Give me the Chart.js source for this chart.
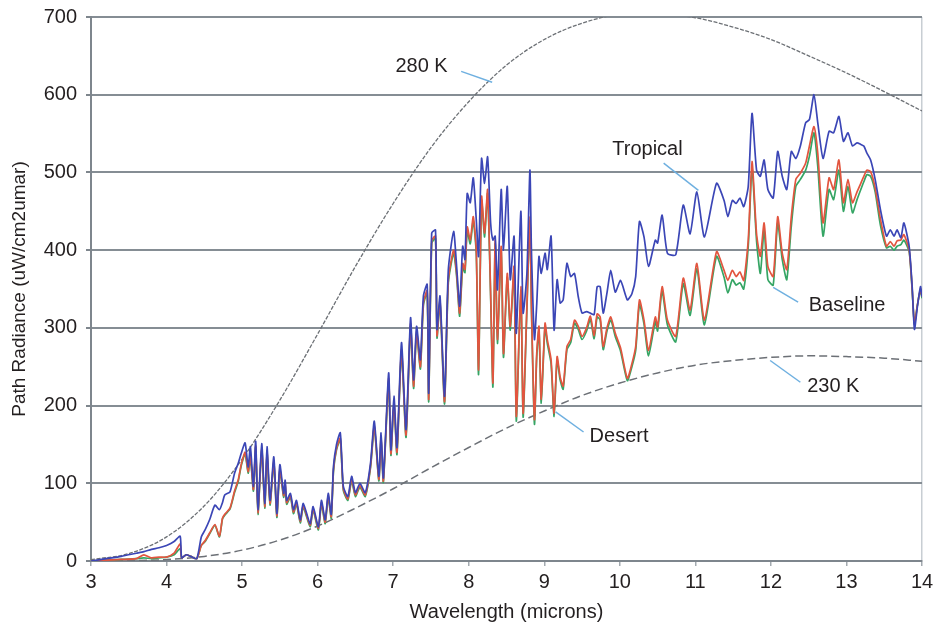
<!DOCTYPE html>
<html>
<head>
<meta charset="utf-8">
<script src="https://cdn.jsdelivr.net/npm/chart.js@4.4.1/dist/chart.umd.min.js"></script>
<style>
    html, body { margin: 0; padding: 0; background: #ffffff; }
    #radiancechart { display: block; }
</style>
</head>
<body>
<canvas id="radiancechart" width="933" height="625"></canvas>
<script>
// wavelengths (microns) shared by the three atmosphere spectra
var wavelength = [
    3.0, 3.2, 3.4, 3.6, 3.7, 3.8, 3.9, 4.0, 4.1, 4.18, 4.2, 4.26, 4.32, 4.4, 4.46, 4.51,
    4.57, 4.64, 4.70, 4.74, 4.77, 4.84, 4.90, 4.95, 4.99, 5.04, 5.08, 5.11, 5.15, 5.18,
    5.21, 5.26, 5.30, 5.33, 5.37, 5.42, 5.46, 5.50, 5.55, 5.57, 5.59, 5.64, 5.68, 5.72,
    5.77, 5.81, 5.90, 5.94, 6.01, 6.05, 6.10, 6.14, 6.18, 6.21, 6.25, 6.30, 6.34, 6.40,
    6.45, 6.50, 6.56, 6.63, 6.70, 6.75, 6.81, 6.84, 6.87, 6.94, 6.97, 7.01, 7.05, 7.11,
    7.17, 7.23, 7.27, 7.31, 7.36, 7.40, 7.45, 7.47, 7.51, 7.56, 7.58, 7.62, 7.68, 7.73,
    7.80, 7.84, 7.88, 7.92, 7.95, 7.98, 8.02, 8.06, 8.10, 8.13, 8.17, 8.21, 8.25, 8.29,
    8.32, 8.35, 8.38, 8.43, 8.46, 8.51, 8.55, 8.60, 8.63, 8.69, 8.72, 8.77, 8.81, 8.83,
    8.87, 8.90, 8.93, 8.96, 9.01, 9.04, 9.09, 9.13, 9.17, 9.21, 9.25, 9.30, 9.35, 9.40,
    9.45, 9.50, 9.56, 9.61, 9.66, 9.70, 9.74, 9.78, 9.83, 9.88, 9.94, 10.01, 10.10, 10.16,
    10.21, 10.26, 10.32, 10.38, 10.47, 10.50, 10.56, 10.63, 10.74, 10.84, 10.93, 11.02,
    11.12, 11.28, 11.38, 11.43, 11.49, 11.54, 11.59, 11.64, 11.70, 11.75, 11.81, 11.86,
    11.91, 11.96, 12.03, 12.09, 12.15, 12.21, 12.27, 12.33, 12.39, 12.46, 12.51, 12.57,
    12.62, 12.69, 12.77, 12.83, 12.90, 12.96, 13.02, 13.08, 13.14, 13.19, 13.23, 13.27,
    13.32, 13.38, 13.45, 13.53, 13.58, 13.63, 13.67, 13.72, 13.76, 13.83, 13.87, 13.90,
    13.94, 13.98, 14.0
];
var tropical = [
    0, 3, 6, 10, 12, 15, 17, 20, 25, 32, 4, 8, 6, 3, 31, 40,
    53, 72, 66, 75, 85, 89, 113, 126, 139, 152, 121, 147, 96, 154,
    66, 151, 74, 147, 78, 134, 61, 124, 87, 104, 78, 87, 66, 78,
    53, 74, 48, 70, 44, 78, 53, 87, 60, 122, 150, 165, 96, 83,
    109, 88, 100, 88, 126, 180, 109, 165, 107, 242, 143, 212, 146, 281,
    169, 313, 233, 302, 259, 341, 356, 216, 422, 426, 298, 341, 212, 375,
    424, 379, 328, 405, 388, 473, 461, 493, 439, 392, 518, 486, 520, 435,
    413, 418, 349, 478, 400, 482, 362, 418, 293, 450, 319, 370, 503, 400,
    285, 330, 392, 370, 396, 375, 418, 297, 362, 332, 336, 383, 366, 370,
    340, 319, 321, 319, 317, 353, 353, 319, 345, 374, 346, 361, 336, 344,
    366, 437, 417, 379, 413, 409, 445, 396, 394, 458, 421, 475,
    417, 486, 464, 443, 464, 460, 467, 456, 482, 576, 503, 495,
    516, 478, 467, 527, 495, 478, 527, 518, 534, 564, 568, 600,
    564, 518, 553, 551, 572, 540, 551, 534, 538, 536, 534, 525,
    516, 491, 452, 418, 426, 418, 426, 416, 435, 405, 353, 298,
    328, 353, 340
];
var baseline = [
    0, 1, 2, 3, 8, 4, 5, 5, 10, 22, 4, 8, 6, 3, 20, 26,
    36, 47, 32, 55, 60, 68, 90, 105, 125, 140, 115, 135, 92, 148,
    62, 145, 70, 140, 74, 128, 58, 118, 84, 100, 75, 84, 63, 75,
    51, 71, 46, 67, 42, 75, 50, 84, 57, 118, 145, 158, 93, 80,
    105, 85, 97, 85, 122, 174, 105, 160, 103, 235, 138, 205, 140, 272,
    162, 305, 225, 295, 250, 332, 348, 208, 412, 418, 290, 335, 205, 362,
    400, 370, 319, 383, 375, 430, 413, 443, 400, 246, 469, 422, 478, 345,
    229, 413, 285, 405, 267, 370, 302, 379, 186, 353, 190, 328, 443, 330,
    182, 267, 302, 208, 306, 285, 259, 190, 263, 237, 225, 276, 285, 310,
    302, 289, 300, 315, 290, 318, 314, 276, 300, 314, 293, 274, 235, 254,
    276, 336, 310, 271, 314, 301, 353, 310, 289, 364, 323, 383,
    310, 398, 374, 361, 374, 366, 372, 361, 413, 514, 421, 392,
    435, 379, 366, 443, 396, 375, 443, 491, 499, 512, 534, 559,
    525, 435, 493, 478, 516, 461, 491, 461, 475, 486, 495, 503,
    501, 480, 440, 405, 411, 405, 412, 413, 420, 400, 350, 305,
    330, 350, 340
];
var desert = [
    0, 1, 2, 3, 4, 3, 4, 5, 8, 16, 4, 8, 6, 3, 20, 25,
    35, 46, 31, 54, 59, 67, 88, 103, 123, 138, 113, 133, 90, 146,
    60, 143, 68, 138, 72, 126, 56, 116, 82, 98, 73, 82, 61, 73,
    49, 69, 44, 65, 40, 73, 48, 82, 55, 116, 143, 156, 91, 78,
    103, 83, 95, 83, 120, 172, 103, 158, 101, 232, 136, 203, 137, 269,
    159, 302, 222, 292, 247, 329, 345, 205, 409, 415, 287, 332, 202, 358,
    396, 366, 315, 378, 371, 425, 408, 438, 395, 240, 464, 417, 473, 340,
    224, 408, 280, 400, 262, 365, 297, 374, 180, 348, 185, 323, 438, 325,
    176, 262, 297, 203, 301, 280, 254, 186, 259, 233, 221, 272, 281, 306,
    298, 285, 296, 311, 286, 314, 310, 272, 296, 310, 289, 270, 232, 250,
    271, 330, 305, 264, 308, 296, 347, 304, 282, 357, 316, 376,
    304, 392, 365, 345, 362, 355, 358, 350, 405, 505, 412, 370,
    426, 362, 355, 435, 388, 362, 431, 482, 491, 503, 521, 551,
    508, 418, 478, 465, 503, 450, 482, 448, 465, 478, 488, 497,
    495, 475, 432, 403, 405, 400, 405, 407, 413, 398, 348, 305,
    330, 348, 338
];

// blackbody reference curves
var bbWavelength = [3, 3.5, 4, 4.5, 5, 5.5, 6, 6.5, 7, 7.5, 8, 8.5, 9, 9.5, 10, 10.5, 11, 11.5, 12, 12.5, 13, 13.5, 14];
var bb280 = [1.8, 9.5, 31, 71, 131, 207, 292, 379, 460, 532, 591, 638, 671, 692, 703, 704, 699, 687, 671, 650, 628, 604, 579];
var bb230 = [0, 0.4, 1.9, 5.9, 14, 27, 45, 68, 93, 120, 146, 171, 193, 213, 229, 242, 252, 258, 262, 264, 263, 261, 257];

var xTicks = [3, 4, 5, 6, 7, 8, 9, 10, 11, 12, 13, 14];
var yTicks = [0, 100, 200, 300, 400, 500, 600, 700];

var fontFamily = '"Liberation Sans", Arial, Helvetica, sans-serif';
var axisColor = "#7e868d";

function toPoints(xs, ys) {
    return xs.map(function (x, i) {
        return { x: x, y: ys[i] };
    });
}

// callout labels with light blue leader lines (in data units)
const callouts = [
    { text: "280 K", at: [7.03, 636], line: [[7.9, 630], [8.31, 616]] },
    { text: "Tropical", at: [9.9, 529], line: [[10.58, 512], [11.04, 477]] },
    { text: "Baseline", at: [12.5, 329], line: [[12.36, 333], [12.03, 352]] },
    { text: "230 K", at: [12.48, 224], line: [[12.39, 230], [11.99, 258]] },
    { text: "Desert", at: [9.6, 160], line: [[9.52, 166], [9.15, 192]] },
];

const calloutPlugin = {
    id: "callouts",
    afterDatasetsDraw: function (chart) {
        const ctx = chart.ctx;
        const xs = chart.scales.x;
        const ys = chart.scales.y;
        ctx.save();
        callouts.forEach(function (c) {
            ctx.strokeStyle = "#6fb0e0";
            ctx.lineWidth = 1.5;
            ctx.beginPath();
            ctx.moveTo(xs.getPixelForValue(c.line[0][0]), ys.getPixelForValue(c.line[0][1]));
            ctx.lineTo(xs.getPixelForValue(c.line[1][0]), ys.getPixelForValue(c.line[1][1]));
            ctx.stroke();
            ctx.fillStyle = "#231f20";
            ctx.font = "20px " + fontFamily;
            ctx.textAlign = "left";
            ctx.textBaseline = "middle";
            ctx.fillText(c.text, xs.getPixelForValue(c.at[0]), ys.getPixelForValue(c.at[1]));
        });
        ctx.restore();
    },
};

const chartdata = {
    datasets: [
        {
            label: "Tropical",
            data: toPoints(wavelength, tropical),
            borderColor: "#3b46b6",
            borderWidth: 1.7,
            pointRadius: 0,
            tension: 0.2,
        },
        {
            label: "Baseline",
            data: toPoints(wavelength, baseline),
            borderColor: "#e2553f",
            borderWidth: 1.7,
            pointRadius: 0,
            tension: 0.2,
        },
        {
            label: "Desert",
            data: toPoints(wavelength, desert),
            borderColor: "#35a564",
            borderWidth: 1.7,
            pointRadius: 0,
            tension: 0.2,
        },
        {
            label: "280 K",
            data: toPoints(bbWavelength, bb280),
            borderColor: "#6c7075",
            borderWidth: 1.3,
            borderDash: [4, 1.5],
            pointRadius: 0,
            cubicInterpolationMode: "monotone",
        },
        {
            label: "230 K",
            data: toPoints(bbWavelength, bb230),
            borderColor: "#6c7076",
            borderWidth: 1.5,
            borderDash: [8, 4],
            pointRadius: 0,
            cubicInterpolationMode: "monotone",
        },
    ],
};

const config = {
    type: "line",
    data: chartdata,
    plugins: [calloutPlugin],
    options: {
        responsive: false,
        animation: false,
        layout: {
            padding: { top: 17, right: 11, bottom: 0, left: 0 },
        },
        plugins: {
            legend: { display: false },
            tooltip: { enabled: false },
        },
        scales: {
            x: {
                type: "linear",
                min: 3,
                max: 14,
                afterBuildTicks: function (scale) {
                    scale.ticks = xTicks.map(function (v) { return { value: v }; });
                },
                afterFit: function (scale) {
                    scale.height = 64;
                    scale.paddingLeft = 0;
                    scale.paddingRight = 0;
                },
                ticks: {
                    color: "#231f20",
                    font: { family: fontFamily, size: 20 },
                    padding: 4,
                    maxRotation: 0,
                },
                grid: {
                    drawOnChartArea: true,
                    color: function (context) {
                        return context.tick && context.tick.value === 14 ? "#c8ced3" : "rgba(0,0,0,0)";
                    },
                    tickColor: "#a3aab0",
                    tickLength: 5,
                    lineWidth: 1.5,
                },
                border: { color: axisColor, width: 2 },
                title: {
                    display: true,
                    text: "Wavelength (microns)",
                    color: "#231f20",
                    font: { family: fontFamily, size: 20 },
                    padding: { top: 0, bottom: 1 },
                },
            },
            y: {
                min: 0,
                max: 700,
                afterBuildTicks: function (scale) {
                    scale.ticks = yTicks.map(function (v) { return { value: v }; });
                },
                afterFit: function (scale) {
                    scale.width = 91;
                    scale.paddingTop = 0;
                    scale.paddingBottom = 0;
                },
                ticks: {
                    color: "#231f20",
                    font: { family: fontFamily, size: 20 },
                    padding: 9,
                },
                grid: {
                    color: "#858d94",
                    lineWidth: 2,
                    tickColor: axisColor,
                    tickLength: 5,
                },
                border: { color: axisColor, width: 2 },
                title: {
                    display: true,
                    text: "Path Radiance (uW/cm2umar)",
                    color: "#231f20",
                    font: { family: fontFamily, size: 19 },
                    padding: { top: 8, bottom: 0 },
                },
            },
        },
    },
};

var radiancechart = new Chart(document.getElementById("radiancechart"), config);
</script>
</body>
</html>
